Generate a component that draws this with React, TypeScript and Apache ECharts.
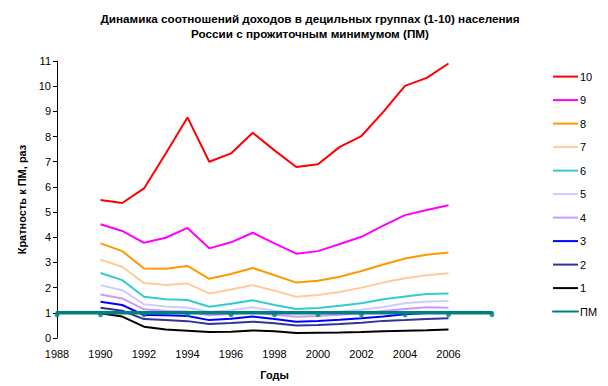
import React, { useEffect, useRef } from "react";
import * as echarts from "echarts";

const years = [1990, 1991, 1992, 1993, 1994, 1995, 1996, 1997, 1998, 1999, 2000, 2001, 2002, 2003, 2004, 2005, 2006];
const d10 = [5.48, 5.36, 5.94, 7.33, 8.76, 7.0, 7.33, 8.15, 7.45, 6.79, 6.9, 7.59, 8.02, 8.98, 10.01, 10.33, 10.9];
const d9 = [4.52, 4.25, 3.78, 3.98, 4.37, 3.56, 3.8, 4.18, 3.76, 3.35, 3.45, 3.73, 4.02, 4.46, 4.88, 5.08, 5.27];
const d8 = [3.76, 3.45, 2.76, 2.75, 2.86, 2.35, 2.54, 2.78, 2.49, 2.2, 2.27, 2.43, 2.66, 2.92, 3.16, 3.31, 3.4];
const d7 = [3.11, 2.83, 2.18, 2.1, 2.16, 1.77, 1.93, 2.1, 1.88, 1.64, 1.71, 1.83, 2.0, 2.2, 2.37, 2.49, 2.57];
const d6 = [2.58, 2.3, 1.64, 1.54, 1.51, 1.24, 1.36, 1.5, 1.31, 1.15, 1.19, 1.28, 1.38, 1.54, 1.65, 1.75, 1.77];
const d5 = [2.1, 1.9, 1.34, 1.25, 1.2, 1.04, 1.1, 1.22, 1.08, 0.98, 1.0, 1.05, 1.12, 1.23, 1.38, 1.45, 1.47];
const d4 = [1.73, 1.57, 1.14, 1.07, 1.05, 0.9, 0.95, 1.02, 0.92, 0.84, 0.87, 0.92, 0.98, 1.07, 1.15, 1.22, 1.2];
const d3 = [1.44, 1.31, 0.91, 0.9, 0.87, 0.71, 0.76, 0.85, 0.75, 0.65, 0.68, 0.72, 0.78, 0.85, 0.94, 0.99, 1.01];
const d2 = [1.2, 1.08, 0.75, 0.71, 0.67, 0.56, 0.6, 0.65, 0.59, 0.5, 0.52, 0.56, 0.61, 0.68, 0.71, 0.75, 0.78];
const d1 = [0.98, 0.85, 0.45, 0.34, 0.29, 0.24, 0.25, 0.3, 0.27, 0.2, 0.21, 0.22, 0.24, 0.27, 0.29, 0.31, 0.34];
const pmYears = [1988, 1990, 1992, 1994, 1996, 1998, 2000, 2002, 2004, 2006, 2008];
const pmValues = [1, 1, 1, 1, 1, 1, 1, 1, 1, 1, 1];

const names = ["10", "9", "8", "7", "6", "5", "4", "3", "2", "1"];
const dataSets = [d10, d9, d8, d7, d6, d5, d4, d3, d2, d1];
const colors = ["#FF0000", "#FF00FF", "#FF9900", "#FFCC99", "#33CCCC", "#CCCCFF", "#CC99FF", "#0000FF", "#333399", "#000000"];
const pmColor = "#008080";

const FONT = "'Liberation Sans', Arial, sans-serif";

export default function App() {
  const ref = useRef<HTMLDivElement>(null);
  useEffect(() => {
    if (!ref.current) return;
    const chart = echarts.init(ref.current, null, { renderer: "svg" });
    const series: any[] = dataSets.map((d, i) => ({
      name: names[i],
      type: "line",
      data: years.map((y, j) => [y, d[j]]),
      symbol: "none",
      lineStyle: { color: colors[i], width: 2 },
      itemStyle: { color: colors[i] },
    }));
    series.push({
      name: "ПМ",
      type: "line",
      data: pmYears.map((y, j) => [y, pmValues[j]]),
      symbol: "none",
      lineStyle: { color: pmColor, width: 3.5, cap: "round" },
      itemStyle: { color: pmColor },
      z: 5,
    });
    series.push({
      name: "pm-points",
      type: "scatter",
      data: pmYears.map((y, j) => [y, pmValues[j]]),
      symbol: "circle",
      symbolSize: 5,
      symbolOffset: [0, 2],
      itemStyle: { color: pmColor },
      z: 4,
    });
    chart.setOption({
      animation: false,
      textStyle: { fontFamily: FONT },
      title: {
        text: "Динамика соотношений доходов в децильных группах (1-10) населения\nРоссии с прожиточным минимумом (ПМ)",
        left: 305,
        textAlign: "center",
        top: 6,
        textStyle: { fontFamily: FONT, fontSize: 11.7, fontWeight: "bold", color: "#000", lineHeight: 15 },
      },
      legend: {
        orient: "vertical",
        left: 552,
        top: 71,
        padding: 0,
        itemWidth: 25,
        itemHeight: 14,
        itemGap: 12.3,
        data: [...names, "ПМ"],
        itemStyle: { opacity: 0 },
        textStyle: { fontFamily: FONT, fontSize: 11, color: "#000", padding: [0, 0, 0, -3] },
      },
      grid: { left: 57, right: 116, top: 61, bottom: 48, containLabel: false },
      xAxis: {
        type: "value",
        min: 1988,
        max: 2008,
        interval: 2,
        name: "Годы",
        nameLocation: "middle",
        nameGap: 31,
        nameTextStyle: { fontFamily: FONT, fontSize: 11, fontWeight: "bold", color: "#000" },
        axisLine: { show: false },
        axisTick: { show: false },
        splitLine: { show: false },
        axisLabel: {
          fontFamily: FONT,
          fontSize: 11,
          color: "#000",
          margin: 10,
          formatter: (v: number) => (v === 2008 ? "" : String(v)),
        },
      },
      yAxis: {
        type: "value",
        min: 0,
        max: 11,
        interval: 1,
        name: "Кратность к ПМ, раз",
        nameLocation: "middle",
        nameGap: 20,
        nameRotate: 90,
        nameTextStyle: { fontFamily: FONT, fontSize: 11, fontWeight: "bold", color: "#000" },
        axisLine: { show: true, lineStyle: { color: "#000", width: 1 } },
        axisTick: { show: true, length: 4, lineStyle: { color: "#000" } },
        splitLine: { show: false },
        axisLabel: { fontFamily: FONT, fontSize: 11, color: "#000", margin: 6 },
      },
      series,
    });
    return () => chart.dispose();
  }, []);
  return <div ref={ref} style={{ width: 608, height: 386, position: "absolute", left: 0, top: 0 }} />;
}
